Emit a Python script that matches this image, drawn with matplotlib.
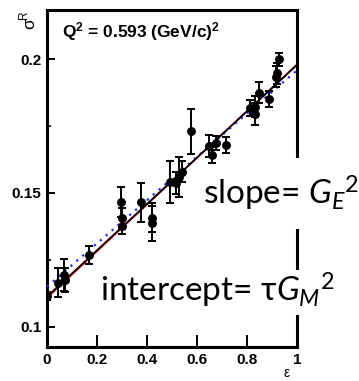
import matplotlib
matplotlib.use("Agg")
import matplotlib.pyplot as plt
from matplotlib.patches import Rectangle
import numpy as np

plt.rcParams['mathtext.fontset'] = 'custom'
plt.rcParams['mathtext.rm'] = 'Lato'
plt.rcParams['mathtext.it'] = 'Lato:italic'
plt.rcParams['mathtext.bf'] = 'Liberation Sans:bold'

# data
eps = [0.000, 0.045, 0.068, 0.070, 0.169, 0.296, 0.299, 0.298, 0.375, 0.419, 0.421,
       0.492, 0.516, 0.529, 0.539, 0.575, 0.649, 0.659, 0.676, 0.716,
       0.812, 0.832, 0.832, 0.849, 0.889, 0.916, 0.920, 0.929]
sigma = [0.1116, 0.1165, 0.1195, 0.1175, 0.1268, 0.1465, 0.1405, 0.1375, 0.1465, 0.1408, 0.1387,
         0.1542, 0.1538, 0.1560, 0.1580, 0.1731, 0.1675, 0.1642, 0.1687, 0.1679,
         0.1816, 0.1822, 0.1794, 0.1874, 0.1850, 0.1934, 0.1947, 0.1999]
err = [0.0015, 0.0055, 0.006, 0.0045, 0.0035, 0.0056, 0.004, 0.003, 0.0073, 0.0055, 0.0065,
       0.0078, 0.004, 0.0075, 0.004, 0.0084, 0.004, 0.003, 0.0025, 0.003,
       0.003, 0.004, 0.004, 0.004, 0.003, 0.004, 0.004, 0.0025]

fit_x = [0.0, 1.0]
fit_black = [0.1113, 0.1978]
fit_red = [0.1108, 0.1980]
fit_blue = [0.1150, 0.1958]

xticks = [0, 0.2, 0.4, 0.6, 0.8, 1]
xticklabels = ['0', '0.2', '0.4', '0.6', '0.8', '1']
yticks = [0.1, 0.15, 0.2]
yticklabels = ['0.1', '0.15', '0.2']

fig = plt.figure(figsize=(3.59, 3.81), dpi=100)
W, H = 359, 381
ax = fig.add_axes([47/W, 1-347/H, 250/W, 337/H])
ax.set_xlim(0, 1)
ax.set_ylim(0.0925, 0.2183)

ax.plot(fit_x, fit_red, color='red', lw=1.2, zorder=3)
ax.plot(fit_x, fit_black, color='black', lw=1.3, zorder=4)
ax.plot(fit_x, fit_blue, color='#1a2bff', lw=1.6, ls=(0, (1, 2.5)), zorder=3.5)
ax.errorbar(eps, sigma, yerr=err, fmt='o', color='black', ms=5.4, elinewidth=1.4,
            capsize=3, capthick=1.4, zorder=5)

for s in ax.spines.values():
    s.set_linewidth(2.2)
    s.set_zorder(0.5)

ax.set_xticks(xticks)
ax.set_xticklabels(xticklabels)
ax.set_yticks(yticks)
ax.set_yticklabels(yticklabels)
ax.set_yticks([0.125, 0.175], minor=True)
ax.tick_params(axis='both', which='major', direction='in', length=6, width=1.4,
               labelsize=11, pad=4)
ax.tick_params(axis='y', which='minor', direction='in', length=3, width=1.2)
ax.tick_params(axis='x', which='major', length=9)
for lab in ax.get_xticklabels() + ax.get_yticklabels():
    lab.set_fontfamily('Liberation Sans')
    lab.set_fontweight('bold')

ax.text(15/250, 1-(37-10)/337, r'Q$^{\mathbf{2}}$ = 0.593 (GeV/c)$^{\mathbf{2}}$', transform=ax.transAxes,
        fontfamily='Liberation Sans', fontweight='bold', fontsize=12.5, va='baseline')

fig.text(30/W, 1-24/H, 'σ', rotation=90, fontfamily='Liberation Sans', fontsize=12.5,
         ha='center', va='center')
fig.text(24/W, 1-15/H, 'R', rotation=90, fontfamily='Liberation Sans', fontsize=8.5,
         ha='center', va='center')
fig.text(287/W, 1-373/H, 'ε', fontfamily='Liberation Sans', fontsize=10,
         ha='center', va='center')

# white boxes (hide right spine)
ax.add_patch(Rectangle((200/W, 1-229/H), 159/W, 71/H, transform=fig.transFigure,
                       facecolor='white', edgecolor='none', zorder=1, clip_on=False))
ax.add_patch(Rectangle((97/W, 1-315/H), 248/W, 45/H, transform=fig.transFigure,
                       facecolor='white', edgecolor='none', zorder=1, clip_on=False))

fig.text(203/W, 1-205/H, r'slope= $G_E{}^2$', fontfamily=['Lato', 'DejaVu Sans'],
         fontsize=24, va='baseline', ha='left', zorder=6)
fig.text(100/W, 1-302/H, r'intercept= τ$G_M{}^2$', fontfamily=['Lato', 'DejaVu Sans'],
         fontsize=24, va='baseline', ha='left', zorder=6)

fig.savefig('out.png', dpi=100)
